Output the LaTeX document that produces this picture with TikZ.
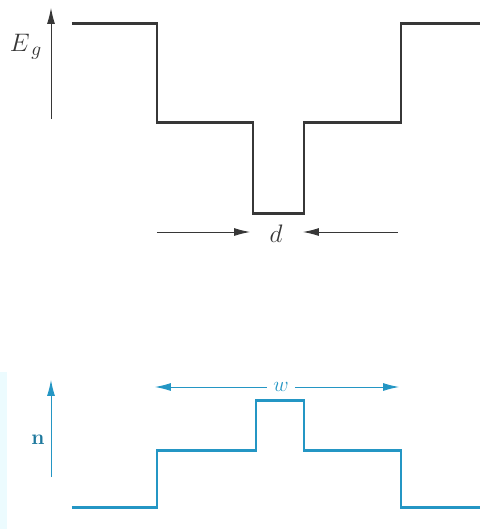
\documentclass[tikz,border=0pt]{standalone}
\usepackage{amsmath}
\usepackage{amssymb}
\usetikzlibrary{arrows.meta}
\definecolor{bandgray}{RGB}{55,55,55}
\definecolor{indexblue}{RGB}{36,150,196}
\definecolor{stripcyan}{RGB}{236,251,254}

\begin{document}
\begin{tikzpicture}[x=0.02cm,y=-0.02cm,
  profile/.style={line width=1.7pt},
  axisarrow/.style={line width=0.5pt,-{Latex[length=9pt,width=4.5pt]}},
  dimarrow/.style={line width=0.5pt,-{Latex[length=9pt,width=4.5pt]}}]
\useasboundingbox (0,0) rectangle (480,529);
\fill[stripcyan] (0,372) rectangle (7,529);
% energy gap profile
\draw[profile,bandgray] (72,23)--(157,23)--(157,122)--(253,122)--(253,213)--(304,213)--(304,122)--(401,122)--(401,23)--(480,23);
\coordinate (eglo) at (51,119);
\coordinate (eghi) at (51,8);
\draw[axisarrow,bandgray] (eglo)--(eghi);
\node[bandgray] (eg) at (26,47) {\fontsize{15}{17}\selectfont$E_{\,g}$};
\node[bandgray] (dlab) at (276,234) {\fontsize{14}{16}\selectfont$d$};
\coordinate (dl) at (157,232);
\coordinate (dr) at (398,232);
\draw[dimarrow,bandgray] (dl)--(250,232);
\draw[dimarrow,bandgray] (dr)--(303,232);
% refractive index profile
\draw[profile,indexblue] (72,507)--(157,507)--(157,450)--(256,450)--(256,400)--(304,400)--(304,450)--(401,450)--(401,507)--(480,507);
\coordinate (nlo) at (51,477);
\coordinate (nhi) at (51,380);
\draw[axisarrow,indexblue] (nlo)--(nhi);
\node[indexblue!80!black] (nlab) at (38,440) {\fontsize{12}{14}\selectfont$\mathbf{n}$};
\node[indexblue] (wlab) at (281,387) {\fontsize{12}{14}\selectfont$w$};
\coordinate (wl) at (155,387);
\coordinate (wr) at (399,387);
\draw[dimarrow,indexblue] (267,387)--(wl);
\draw[dimarrow,indexblue] (295,387)--(wr);
\end{tikzpicture}
\end{document}
